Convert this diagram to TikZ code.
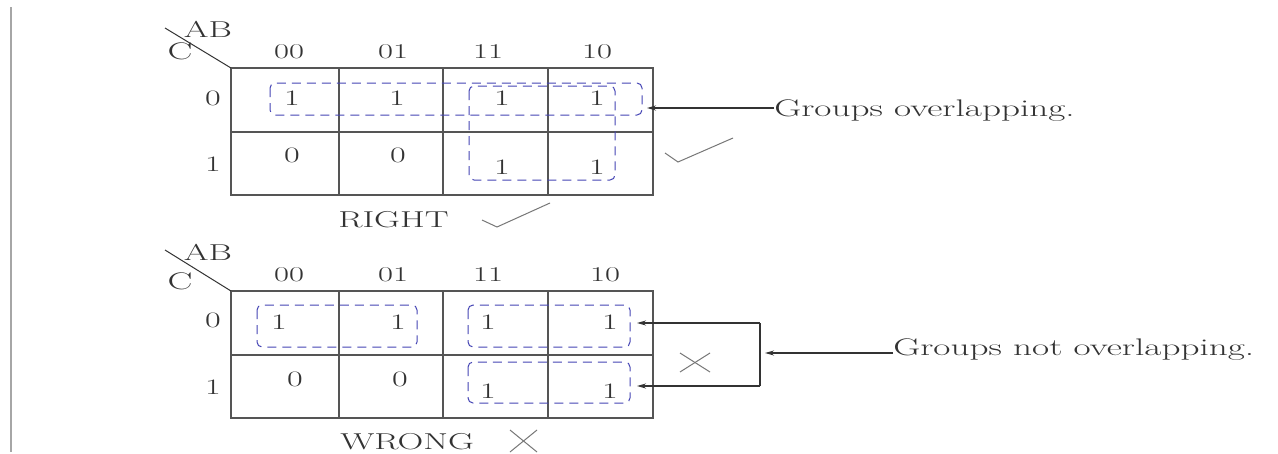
\documentclass[tikz,border=0pt]{standalone}
\usetikzlibrary{arrows.meta}
\definecolor{gridc}{HTML}{555555}
\definecolor{grpc}{HTML}{4545B5}
\definecolor{txtc}{HTML}{333333}
\tikzset{
  lbl/.style={inner sep=0pt, text=txtc, font=\fontsize{21}{21}\selectfont, xscale=1.55},
  big/.style={lbl, font=\fontsize{24}{24}\selectfont},
  mid/.style={lbl, font=\fontsize{23}{23}\selectfont},
  cell/.style={lbl, font=\fontsize{22}{22}\selectfont},
  gridline/.style={draw=gridc, line width=1.6pt},
  grp/.style={draw=grpc, line width=1pt, dash pattern=on 9pt off 6pt, rounded corners=5pt},
  conn/.style={draw=txtc, line width=1.2pt},
  arr/.style={conn, -{Stealth[length=9pt,width=5pt]}},
  tickmark/.style={draw=gridc!80, line width=1pt}
}
\begin{document}
\begin{tikzpicture}[x=1pt,y=-1pt]
\useasboundingbox (0,0) rectangle (1278,453);
\fill[white] (0,0) rectangle (1278,453);
% left rule
\draw[gray!70, line width=2pt] (11,7) -- (11,452);

% ===== top map =====
\draw[gridline] (231,68) rectangle (653,195);
\draw[gridline] (231,132) -- (653,132);
\foreach \x in {339,443,548} \draw[gridline] (\x,68) -- (\x,195);
\node[mid] (tAB) at (208,29) {AB};
\node[big] (tC) at (180,51) {C};
\draw[conn, line width=1pt] (165,28) -- (231,68);
\node[lbl] (th1) at (289,52) {00};
\node[lbl] (th2) at (393,52) {01};
\node[lbl] (th3) at (488,52) {11};
\node[lbl] (th4) at (597,52) {10};
\node[cell] (tr0) at (213,98) {0};
\node[cell] (tr1) at (213,164) {1};
\node[cell] (t00) at (292,98) {1};
\node[cell] (t01) at (397,98) {1};
\node[cell] (t02) at (502,98) {1};
\node[cell] (t03) at (597,98) {1};
\node[cell] (t10) at (292,155) {0};
\node[cell] (t11) at (398,155) {0};
\node[cell] (t12) at (502,167) {1};
\node[cell] (t13) at (597,167) {1};
\draw[grp] (270,83) rectangle (642,115);
\draw[grp] (469,86) rectangle (615,180);
% annotation
\node[big, anchor=base west] (tover) at (774,116) {Groups overlapping.};
\coordinate (ttip) at (647,108);
\draw[arr] (tover.west |- ttip) -- (ttip);
\draw[tickmark] (665,153) -- (678,162) -- (733,138);
\node[mid, anchor=base west] (right) at (338,227) {RIGHT};
\draw[tickmark] (482,220) -- (497,227) -- (550,203);

% ===== bottom map =====
\draw[gridline] (231,291) rectangle (653,418);
\draw[gridline] (231,355) -- (653,355);
\foreach \x in {339,443,548} \draw[gridline] (\x,291) -- (\x,418);
\node[mid] (bAB) at (208,252) {AB};
\node[big] (bC) at (180,281) {C};
\draw[conn, line width=1pt] (165,250) -- (231,291);
\node[lbl] (bh1) at (289,275) {00};
\node[lbl] (bh2) at (393,275) {01};
\node[lbl] (bh3) at (488,275) {11};
\node[lbl] (bh4) at (605,275) {10};
\node[cell] (br0) at (213,320) {0};
\node[cell] (br1) at (213,387) {1};
\node[cell] (b00) at (279,322) {1};
\node[cell] (b01) at (398,322) {1};
\node[cell] (b02) at (488,322) {1};
\node[cell] (b03) at (610,322) {1};
\node[cell] (b10) at (295,379) {0};
\node[cell] (b11) at (400,379) {0};
\node[cell] (b12) at (488,391) {1};
\node[cell] (b13) at (610,391) {1};
\draw[grp] (257,305) rectangle (417,347);
\draw[grp] (468,305) rectangle (630,347);
\draw[grp] (468,362) rectangle (630,403);
% bracket annotation
\coordinate (k1) at (760,323);
\coordinate (k2) at (760,386);
\coordinate (a1) at (637,323);
\coordinate (a2) at (637,386);
\coordinate (km) at (765,353);
\draw[conn] (k1) -- (k2);
\draw[arr] (k1) -- (a1);
\draw[arr] (k2) -- (a2);
\node[big, anchor=base west] (bover) at (893,355) {Groups not overlapping.};
\draw[arr] (bover.west |- km) -- (km);
\draw[tickmark] (680,353) -- (710,372);
\draw[tickmark] (680,372) -- (710,353);
\node[mid, anchor=base west] (wrong) at (340,449) {WRONG};
\draw[tickmark] (510,430) -- (537,452);
\draw[tickmark] (510,452) -- (537,430);
\end{tikzpicture}
\end{document}
